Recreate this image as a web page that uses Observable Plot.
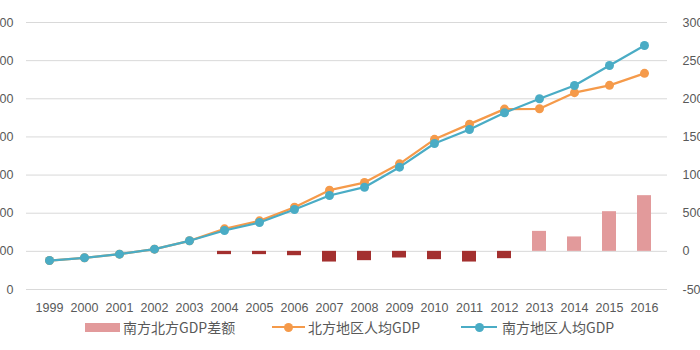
<!DOCTYPE html>
<html>
<head>
<meta charset="utf-8">
<script src="https://cdn.jsdelivr.net/npm/d3@7"></script>
<script src="https://cdn.jsdelivr.net/npm/@observablehq/plot@0.6"></script>
<style>
  html, body { margin: 0; padding: 0; background: #fff; }
  #wrap { position: relative; width: 700px; height: 350px; overflow: hidden; font-family: "Noto Sans CJK SC", "Noto Sans", sans-serif; }
  .lg { position: absolute; font-size: 14px; color: #595959; line-height: 20px; top: 317px; white-space: nowrap; }
  .sw { position: absolute; }
</style>
</head>
<body>
<div id="wrap"></div>
<script>
const years = ["1999","2000","2001","2002","2003","2004","2005","2006","2007","2008","2009","2010","2011","2012","2013","2014","2015","2016"];
const north = [760, 831, 926, 1057, 1277, 1590, 1800, 2155, 2605, 2804, 3294, 3937, 4335, 4729, 4738, 5160, 5353, 5667];
const south = [760, 831, 926, 1057, 1277, 1547, 1757, 2098, 2465, 2682, 3207, 3828, 4195, 4633, 5000, 5349, 5873, 6397];
const diff  = [0, 0, 0, 0, 0, -43, -43, -57, -140, -122, -87, -109, -140, -96, 262, 189, 520, 730];
const leftTicks = [0, 1000, 2000, 3000, 4000, 5000, 6000, 7000];
const rightTicks = [-500, 0, 500, 1000, 1500, 2000, 2500, 3000];
const seriesNames = ["南方北方GDP差额", "北方地区人均GDP", "南方地区人均GDP"];
const colors = { pos: "#e29a9b", neg: "#a3302f", north: "#f59a4a", south: "#4aacc5" };

// right axis value -> left axis units (both share the same pixel span)
const toLeft = r => (r + 500) * 2;

const lineData = years.map((y, i) => ({ year: y, north: north[i], south: south[i] }));
const barData = years.map((y, i) => ({ year: y, d: diff[i] })).filter(d => d.d !== 0);

const chart = Plot.plot({
  width: 700,
  height: 318,
  marginTop: 22,
  marginBottom: 29,
  marginLeft: 26,
  marginRight: 33,
  style: { fontFamily: "'Liberation Sans', sans-serif", fontSize: "12.5px", color: "#595959", background: "transparent" },
  x: { type: "band", domain: years, paddingInner: 0.6, paddingOuter: 0.3 },
  y: { domain: [0, 7000] },
  marks: [
    Plot.gridY(leftTicks, { stroke: "#d9d9d9", strokeOpacity: 1, strokeWidth: 1 }),
    Plot.axisY(leftTicks, { anchor: "left", tickSize: 0, tickPadding: 13, label: null, tickFormat: d => String(d) }),
    Plot.axisY(rightTicks.map(toLeft), { anchor: "right", tickSize: 0, tickPadding: 15, label: null, tickFormat: v => String(v / 2 - 500) }),
    Plot.axisX({ tickSize: 0, tickPadding: 14, label: null }),
    Plot.rectY(barData, { x: "year", y1: () => toLeft(0), y2: d => toLeft(d.d), fill: d => d.d < 0 ? colors.neg : colors.pos }),
    Plot.lineY(lineData, { x: "year", y: "north", stroke: colors.north, strokeWidth: 2.25 }),
    Plot.dot(lineData, { x: "year", y: "north", r: 4.5, fill: colors.north, stroke: "none" }),
    Plot.lineY(lineData, { x: "year", y: "south", stroke: colors.south, strokeWidth: 2.25 }),
    Plot.dot(lineData, { x: "year", y: "south", r: 4.5, fill: colors.south, stroke: "none" })
  ]
});

const wrap = document.getElementById("wrap");
wrap.appendChild(chart);

function add(html) { wrap.insertAdjacentHTML("beforeend", html); }
// legend
add(`<div class="sw" style="left:85px;top:323px;width:35px;height:9px;background:${colors.pos}"></div>`);
add(`<div class="lg" style="left:123px">${seriesNames[0]}</div>`);
add(`<div class="sw" style="left:272px;top:326px;width:33px;height:2px;background:${colors.north}"></div>`);
add(`<div class="sw" style="left:284px;top:322.5px;width:9px;height:9px;border-radius:50%;background:${colors.north}"></div>`);
add(`<div class="lg" style="left:308px">${seriesNames[1]}</div>`);
add(`<div class="sw" style="left:461px;top:326px;width:36px;height:2px;background:${colors.south}"></div>`);
add(`<div class="sw" style="left:474.5px;top:322.5px;width:9px;height:9px;border-radius:50%;background:${colors.south}"></div>`);
add(`<div class="lg" style="left:502px">${seriesNames[2]}</div>`);
</script>
</body>
</html>
